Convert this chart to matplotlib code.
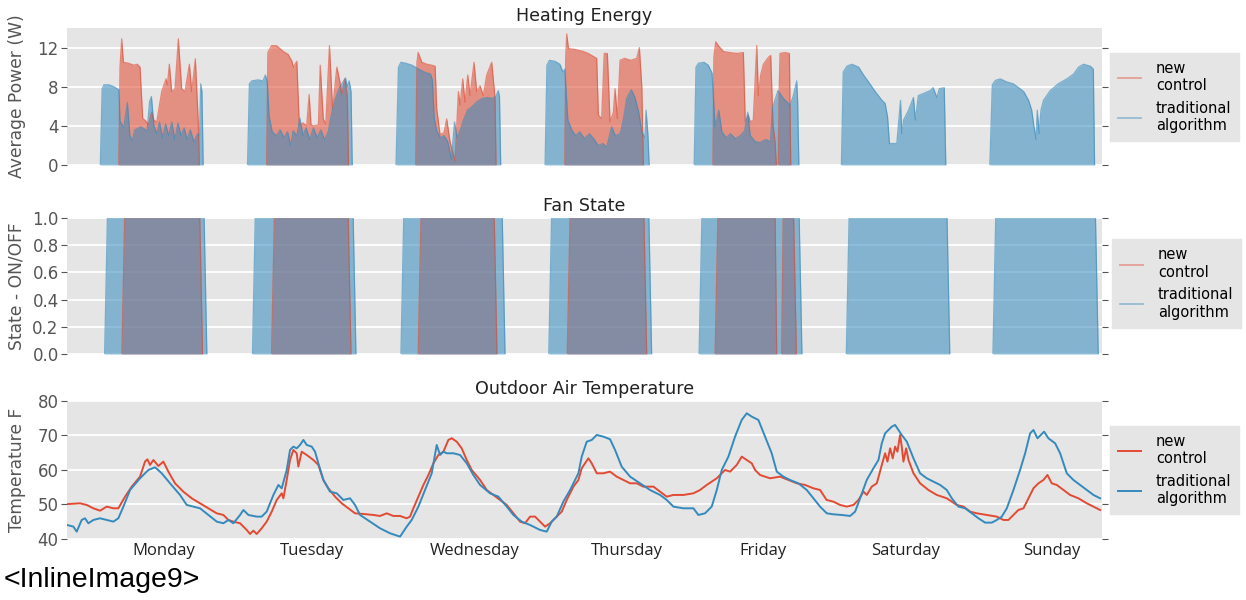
import numpy as np
import matplotlib
matplotlib.use("Agg")
import matplotlib.pyplot as plt
from matplotlib.lines import Line2D

# ---------------- data (hours since Monday 00:00) ----------------
days = ["Monday", "Tuesday", "Wednesday", "Thursday", "Friday", "Saturday", "Sunday"]
day_label_hours = [15.75, 39.8, 66.1, 90.9, 113.0, 136.2, 159.9]

series_labels = ["new\ncontrol", "traditional\nalgorithm"]

# Heating power (W), traditional algorithm: (hour, watts)
power_traditional = [
    (0, 0), (5.4, 0), (5.7, 7.8), (6.0, 8.2), (6.8, 8.2), (7.6, 8.0), (8.4, 7.7), (8.6, 4.5), (9.2, 3.8),
    (9.8, 6.4), (10.2, 3.0), (10.6, 2.5), (11.0, 3.6), (12.0, 3.9), (13.0, 3.5), (13.4, 6.5), (13.7, 7.0),
    (14.1, 4.0), (14.6, 3.2), (15.0, 4.4), (15.5, 2.8), (16.0, 4.2), (16.5, 3.0), (17.0, 4.4), (17.5, 2.6),
    (18.0, 4.3), (18.5, 3.0), (19.0, 3.8), (19.5, 2.6), (20.0, 3.6), (20.6, 2.4), (21.2, 3.2), (21.5, 3.0),
    (21.7, 8.3), (21.9, 7.5), (22.1, 0),
    (29.3, 0), (29.6, 8.3), (30.0, 8.6), (31.0, 8.7), (31.8, 8.6), (32.2, 9.2), (32.5, 8.5), (32.8, 5.0),
    (33.3, 3.4), (34.0, 3.0), (34.6, 3.6), (35.2, 2.8), (35.8, 3.4), (36.3, 2.0), (36.7, 3.5), (37.3, 3.0),
    (37.8, 4.8), (38.3, 3.0), (38.8, 3.8), (39.4, 2.6), (40.0, 3.8), (40.6, 2.8), (41.2, 3.6), (41.8, 2.6),
    (42.4, 3.4), (42.8, 4.8), (43.3, 6.2), (43.8, 7.2), (44.3, 8.0), (44.8, 8.5), (45.2, 8.9), (45.5, 8.0),
    (45.8, 8.6), (46.1, 7.5), (46.3, 0),
    (53.4, 0), (53.8, 10.0), (54.2, 10.5), (55.0, 10.4), (56.0, 10.2), (56.8, 9.9), (58.0, 9.5), (59.0, 9.3),
    (59.3, 8.7), (59.6, 4.8), (60.0, 3.5), (60.6, 2.8), (61.2, 3.0), (61.8, 2.4), (62.4, 0.6), (62.9, 4.4),
    (63.3, 2.8), (63.8, 3.5), (64.3, 4.5), (65.0, 5.6), (65.8, 6.0), (66.6, 6.5), (67.4, 6.8), (68.2, 6.9),
    (69.0, 6.8), (69.6, 7.0), (70.0, 7.6), (70.2, 7.0), (70.4, 0),
    (77.6, 0), (77.9, 10.2), (78.3, 10.7), (79.2, 10.6), (80.0, 10.3), (80.5, 9.5), (80.8, 9.8), (81.3, 4.6),
    (82.0, 3.5), (82.6, 3.0), (83.2, 3.4), (84.0, 2.7), (84.8, 3.2), (85.6, 2.6), (86.2, 2.0), (87.0, 2.2),
    (87.6, 1.8), (88.4, 3.9), (89.0, 3.0), (89.8, 3.2), (90.3, 4.6), (90.85, 6.8), (91.6, 7.7), (92.2, 6.9),
    (92.8, 5.4), (93.3, 3.4), (93.8, 2.8), (94.0, 5.6), (94.3, 3.0), (94.5, 0),
    (101.8, 0), (102.1, 10.0), (102.5, 10.4), (103.4, 10.5), (104.1, 10.2), (104.7, 9.4), (105.2, 3.9),
    (105.8, 5.6), (106.3, 3.4), (107.0, 2.8), (107.7, 3.2), (108.5, 2.7), (109.3, 3.0), (110.0, 3.5),
    (110.5, 5.4), (110.9, 3.0), (111.7, 2.4), (112.5, 2.3), (113.4, 2.6), (114.2, 2.4), (114.5, 5.8),
    (115.4, 7.6), (116.3, 6.8), (117.4, 6.1), (117.9, 7.1), (118.45, 8.6), (118.6, 6.5), (118.8, 0),
    (125.7, 0), (126.0, 9.5), (126.6, 10.1), (127.4, 10.3), (128.5, 10.0), (129.3, 9.2), (130.1, 8.5),
    (131.2, 7.5), (132.3, 6.6), (132.8, 6.3), (133.2, 4.9), (133.5, 2.2), (134.7, 2.2), (135.3, 6.6),
    (135.5, 3.2), (135.8, 4.6), (136.6, 5.6), (137.4, 6.9), (137.7, 4.6), (138.2, 7.1), (139.0, 7.3),
    (140.1, 7.6), (140.6, 7.9), (141.2, 6.9), (141.6, 7.8), (142.4, 7.9), (142.65, 0),
    (149.8, 0), (150.2, 8.2), (150.7, 8.65), (151.5, 8.8), (152.5, 8.5), (153.6, 8.3), (154.7, 7.8),
    (155.3, 7.5), (156.1, 6.6), (156.6, 5.6), (156.9, 4.2), (157.3, 2.6), (157.5, 5.6), (157.8, 3.2),
    (158.1, 5.6), (158.5, 6.6), (159.6, 7.6), (160.9, 8.3), (162.3, 8.8), (163.4, 9.3), (164.2, 10.0),
    (165.0, 10.3), (166.1, 10.1), (166.6, 9.8), (166.8, 0), (168, 0),
]

# Heating power (W), new control: (hour, watts)
power_new = [
    (0, 0), (8.4, 0), (8.6, 10.0), (8.87, 12.9), (9.15, 10.5), (10.0, 10.4), (10.8, 10.2), (11.4, 10.3),
    (11.85, 10.0), (12.28, 4.75), (12.8, 4.5), (13.2, 4.1), (13.74, 5.4), (14.1, 4.6), (14.56, 4.4),
    (15.37, 7.5), (16.07, 8.8), (16.3, 8.2), (16.61, 10.3), (16.99, 7.5), (17.53, 7.8), (18.07, 12.9),
    (18.61, 7.8), (19.15, 7.5), (19.86, 10.3), (20.24, 7.5), (20.83, 10.85), (21.32, 4.1), (21.48, 0),
    (32.4, 0), (32.6, 11.5), (33.2, 12.2), (34.0, 12.2), (35.1, 11.6), (35.9, 11.3), (36.5, 10.6),
    (36.75, 10.0), (37.3, 10.6), (37.7, 4.1), (38.3, 4.3), (38.9, 4.0), (39.3, 7.2), (39.6, 4.1),
    (40.0, 4.0), (40.8, 4.1), (41.1, 10.2), (41.6, 4.7), (42.0, 4.2), (42.6, 12.2), (43.1, 5.7),
    (43.8, 10.0), (44.3, 8.5), (44.6, 7.2), (45.1, 8.8), (45.5, 7.0), (45.7, 0),
    (56.6, 0), (56.8, 10.5), (57.0, 11.5), (57.6, 10.5), (58.4, 10.3), (59.2, 10.2), (59.75, 10.1),
    (60.0, 5.8), (60.55, 3.1), (61.2, 3.3), (61.63, 4.7), (62.17, 2.4), (62.99, 0.4), (63.53, 7.5),
    (63.8, 6.1), (64.23, 8.8), (64.61, 6.4), (65.04, 9.2), (65.42, 7.1), (66.07, 10.5), (66.5, 7.5),
    (67.04, 8.1), (67.58, 7.1), (68.13, 9.2), (68.94, 10.5), (69.48, 6.8), (69.64, 0),
    (80.8, 0), (80.95, 11.0), (81.11, 13.4), (81.4, 11.9), (82.5, 11.8), (83.82, 11.6), (84.6, 11.4),
    (85.44, 11.1), (85.98, 10.9), (86.25, 5.1), (86.79, 4.75), (87.2, 11.4), (87.71, 11.4), (88.15, 4.4),
    (88.69, 5.4), (88.96, 7.8), (89.34, 4.75), (89.77, 10.7), (90.5, 10.9), (91.5, 10.7), (92.48, 10.9),
    (92.91, 12.0), (93.3, 8.0), (93.56, 0),
    (104.85, 0), (105.0, 11.0), (105.3, 12.6), (105.73, 12.2), (106.55, 11.6), (107.5, 11.5),
    (108.71, 11.4), (109.79, 11.5), (110.1, 4.4), (110.6, 5.1), (110.9, 4.4), (111.4, 4.6), (111.96, 12.2),
    (112.23, 7.1), (112.6, 9.2), (113.04, 10.3), (113.85, 11.0), (114.23, 11.2), (114.6, 4.1),
    (114.93, 2.4), (115.15, 0), (115.45, 0), (115.6, 7.5), (115.74, 11.4), (116.5, 11.5), (117.26, 11.4),
    (117.48, 0), (168, 0),
]

# Fan state (0 = OFF, 1 = ON): (hour, state)
fan_traditional = [
    (0, 0), (6.1, 0), (6.55, 1), (22.25, 1), (22.7, 0), (30.1, 0), (30.55, 1), (46.45, 1), (46.9, 0),
    (54.2, 0), (54.65, 1), (70.65, 1), (71.1, 0), (78.2, 0), (78.65, 1), (94.45, 1), (94.9, 0),
    (102.6, 0), (103.05, 1), (118.85, 1), (119.3, 0), (126.5, 0), (126.95, 1), (142.85, 1), (143.3, 0),
    (150.3, 0), (150.75, 1), (166.95, 1), (167.4, 0), (168, 0),
]
fan_new = [
    (0, 0), (8.9, 0), (9.35, 1), (21.55, 1), (22.0, 0), (33.2, 0), (33.65, 1), (45.65, 1), (46.1, 0),
    (57.0, 0), (57.45, 1), (69.35, 1), (69.8, 0), (81.2, 0), (81.65, 1), (93.65, 1), (94.1, 0),
    (105.2, 0), (105.65, 1), (114.95, 1), (115.2, 0), (116.0, 0), (116.25, 1), (117.95, 1), (118.4, 0),
    (168, 0),
]

# Outdoor air temperature (F): (hour, degF)
temp_new = [
    (0, 50.1), (2.11, 50.34), (3.19, 49.86), (4.28, 48.89), (5.36, 48.2), (6.44, 49.38), (7.52, 48.89),
    (8.33, 48.89), (9.42, 52.27), (10.5, 55.17), (11.85, 58.07), (12.66, 62.42), (13.04, 63.1),
    (13.47, 61.45), (14.02, 62.9), (14.83, 61.16), (15.64, 62.42), (16.45, 59.52), (17.53, 56.14),
    (18.88, 53.72), (20.24, 51.79), (21.59, 50.34), (22.94, 48.89), (24.3, 47.44), (25.38, 46.96),
    (26.19, 45.51), (27.0, 45.03), (28.09, 44.55), (29.17, 42.61), (29.71, 41.45), (30.25, 42.42),
    (30.79, 41.45), (31.6, 43.1), (32.41, 45.03), (33.23, 47.93), (34.04, 51.31), (34.85, 53.24),
    (35.12, 51.79), (35.66, 57.1), (36.2, 62.9), (36.74, 65.8), (37.28, 64.84), (37.55, 60.97),
    (38.09, 65.3), (38.91, 64.35), (39.99, 62.9), (40.8, 61.45), (41.61, 57.1), (42.42, 54.69),
    (43.51, 52.27), (44.59, 50.34), (45.67, 48.89), (46.75, 47.44), (48.11, 47.25), (49.73, 46.96),
    (50.81, 46.67), (51.89, 47.44), (52.98, 46.67), (54.06, 46.67), (55.14, 46.0), (55.68, 46.48),
    (56.22, 48.89), (57.03, 52.27), (57.85, 55.66), (58.66, 58.55), (59.47, 61.93), (60.28, 64.35),
    (61.09, 65.3), (61.9, 68.7), (62.45, 69.2), (63.26, 68.2), (64.07, 66.28), (64.88, 62.9),
    (65.69, 60.0), (67.05, 57.1), (68.13, 54.2), (69.21, 52.76), (70.29, 51.31), (71.38, 49.86),
    (72.46, 47.44), (73.54, 45.03), (74.35, 44.55), (75.16, 46.48), (75.98, 46.48), (76.79, 45.03),
    (77.6, 43.58), (78.41, 44.55), (79.49, 46.48), (80.3, 47.93), (81.12, 51.31), (82.2, 55.17),
    (83.01, 57.1), (83.55, 60.49), (84.63, 63.38), (85.17, 61.93), (85.99, 59.04), (87.07, 59.04),
    (88.15, 59.52), (89.23, 58.07), (90.32, 57.1), (91.4, 56.14), (92.48, 56.14), (93.56, 55.17),
    (95.19, 55.17), (96.27, 53.72), (97.35, 52.27), (98.43, 52.76), (100.06, 52.76), (101.68, 53.24),
    (102.76, 54.2), (103.84, 55.66), (105.47, 57.59), (106.82, 60.0), (107.63, 59.52), (108.71, 61.45),
    (109.52, 63.87), (110.34, 62.9), (111.15, 61.93), (111.69, 60.0), (112.5, 58.55), (114.12, 57.59),
    (115.75, 58.07), (117.1, 57.1), (118.45, 56.14), (119.81, 55.66), (121.16, 54.69), (122.24, 54.2),
    (123.3, 51.31), (124.41, 50.82), (125.49, 49.86), (126.58, 49.38), (127.66, 49.86), (128.47, 51.31),
    (129.28, 53.72), (129.82, 52.76), (130.63, 55.17), (131.45, 56.14), (132.26, 61.45), (132.8, 64.84),
    (133.18, 62.42), (133.61, 66.28), (134.04, 63.38), (134.42, 66.77), (134.8, 65.3), (135.23, 70.15),
    (135.5, 66.77), (135.77, 62.42), (136.21, 66.28), (136.59, 62.9), (137.4, 59.04), (138.48, 56.14),
    (139.83, 54.2), (141.19, 52.76), (142.81, 51.79), (144.43, 49.86), (145.52, 49.38), (146.6, 47.93),
    (147.68, 47.44), (149.3, 46.96), (150.93, 46.48), (152.01, 45.51), (152.82, 45.51), (153.63, 46.96),
    (154.44, 48.41), (155.26, 48.89), (156.07, 51.79), (156.88, 54.69), (157.69, 56.14), (158.5, 57.1),
    (159.15, 58.55), (159.85, 56.14), (160.67, 55.66), (161.75, 54.2), (162.83, 52.76), (164.18, 51.79),
    (165.54, 50.34), (166.62, 49.38), (167.7, 48.41),
]
temp_traditional = [
    (0, 44.06), (1.03, 43.58), (1.57, 42.13), (2.38, 45.51), (2.92, 46.0), (3.46, 44.55), (4.28, 45.51),
    (5.36, 46.0), (6.44, 45.51), (7.52, 45.03), (8.33, 46.0), (9.15, 49.38), (10.23, 54.2), (11.85, 57.59),
    (13.2, 60.0), (14.29, 60.78), (15.37, 59.04), (16.72, 56.14), (18.34, 52.76), (19.43, 49.86),
    (20.51, 49.38), (21.59, 48.89), (22.94, 46.96), (24.3, 45.03), (25.38, 44.55), (26.19, 45.51),
    (27.0, 44.55), (28.09, 46.96), (28.63, 48.41), (29.44, 46.96), (30.79, 46.48), (31.6, 46.48),
    (32.41, 47.93), (33.5, 52.76), (34.31, 55.66), (34.85, 54.69), (35.66, 60.0), (36.2, 65.8),
    (36.74, 66.77), (37.28, 66.28), (37.82, 67.25), (38.37, 68.7), (38.91, 67.25), (39.72, 66.77),
    (40.26, 65.3), (40.8, 61.93), (41.61, 57.1), (42.69, 53.72), (43.78, 53.24), (44.86, 51.31),
    (45.94, 51.79), (46.75, 49.86), (47.57, 46.96), (49.19, 45.03), (50.81, 43.1), (52.44, 41.65),
    (54.06, 40.68), (55.14, 43.58), (55.95, 45.51), (57.03, 49.38), (58.12, 54.2), (59.2, 59.04),
    (60.01, 67.25), (60.55, 64.35), (61.09, 65.3), (61.64, 64.84), (62.72, 64.84), (63.8, 64.35),
    (64.88, 61.93), (65.96, 58.55), (67.05, 55.66), (68.67, 53.24), (70.02, 52.27), (71.38, 49.38),
    (72.46, 46.96), (73.81, 45.03), (75.16, 44.06), (76.79, 42.61), (77.87, 42.13), (78.68, 45.03),
    (79.49, 46.48), (80.57, 50.82), (81.66, 54.2), (83.01, 59.04), (83.55, 63.87), (84.36, 68.2),
    (85.17, 68.7), (85.99, 70.15), (87.07, 69.66), (88.15, 68.9), (88.96, 65.8), (90.04, 60.97),
    (91.4, 58.07), (93.02, 56.14), (94.64, 54.2), (96.27, 52.76), (97.35, 51.31), (98.43, 49.38),
    (100.06, 48.89), (101.68, 48.89), (102.49, 46.96), (103.57, 47.44), (104.65, 49.38), (105.47, 54.2),
    (106.28, 60.0), (107.36, 63.87), (108.44, 69.66), (109.52, 74.5), (110.34, 76.43), (111.15, 75.46),
    (112.23, 74.5), (113.31, 69.66), (114.39, 64.84), (115.21, 59.52), (116.29, 58.07), (117.37, 57.1),
    (118.72, 56.14), (120.08, 54.2), (121.16, 51.79), (122.24, 49.38), (123.33, 47.44), (124.41, 47.15),
    (125.76, 46.96), (127.12, 46.67), (127.93, 47.93), (128.74, 51.79), (129.82, 57.1), (130.9, 60.49),
    (131.72, 62.9), (132.26, 67.73), (132.8, 70.63), (133.34, 71.6), (133.88, 72.56), (134.42, 73.05),
    (134.96, 71.6), (135.5, 70.15), (136.32, 68.21), (137.4, 63.38), (138.48, 59.04), (139.56, 57.59),
    (140.65, 56.62), (141.73, 55.66), (142.81, 54.2), (143.62, 51.79), (144.7, 49.38), (145.79, 48.89),
    (146.87, 47.44), (147.95, 46.0), (149.03, 44.74), (150.11, 44.74), (150.93, 45.51), (151.74, 46.48),
    (152.55, 48.89), (153.63, 54.2), (154.71, 60.0), (155.53, 64.84), (156.34, 70.63), (156.88, 71.6),
    (157.53, 69.18), (158.07, 70.15), (158.61, 71.11), (159.31, 69.18), (160.4, 67.73), (161.21, 64.84),
    (162.29, 59.04), (163.37, 57.1), (164.45, 55.66), (165.54, 54.2), (166.62, 52.76), (167.7, 51.79),
]

# ---------------- style ----------------
RED = "#E24A33"
BLUE = "#348ABD"
BG = "#E5E5E5"
GRAY = "#555555"

fig = plt.figure(figsize=(12.46, 6.0), dpi=100)
rects = [
    [0.0538, 0.725, 0.8306, 0.2283],
    [0.0538, 0.410, 0.8306, 0.2267],
    [0.0538, 0.1017, 0.8306, 0.2300],
]
axs = [fig.add_axes(r) for r in rects]


def arr(pairs):
    return np.array([p[0] for p in pairs], float), np.array([p[1] for p in pairs], float)


def outline(h, v):
    xs, ys = [], []
    for i in range(len(h)):
        xs.append(h[i]); ys.append(v[i])
        if i + 1 < len(h) and v[i] == 0 and v[i + 1] == 0:
            xs.append(np.nan); ys.append(np.nan)
    return xs, ys


def style(ax):
    ax.set_facecolor(BG)
    for s in ax.spines.values():
        s.set_visible(False)
    ax.set_axisbelow(True)
    ax.yaxis.grid(True, color="white", lw=1.3)
    ax.xaxis.grid(False)
    ax.tick_params(axis="y", left=True, right=True, labelright=False, direction="out",
                   length=4, width=0.8, color=GRAY, labelsize=12, labelcolor=GRAY, pad=2)
    ax.tick_params(axis="x", length=0)
    ax.set_xlim(0, 168)


def area(ax, pairs, color):
    h, v = arr(pairs)
    ax.fill_between(h, 0, v, color=color, alpha=0.55, lw=0)
    xs, ys = outline(h, v)
    ax.plot(xs, ys, color=color, lw=0.9, alpha=0.6)


leg_kw = dict(loc="center left", frameon=True, facecolor=BG, edgecolor=BG, framealpha=1,
              fancybox=False, fontsize=10.5, handlelength=1.6, handletextpad=1.0,
              borderpad=0.55, labelspacing=0.5, borderaxespad=0)

faint = [Line2D([], [], color=RED, alpha=0.45, lw=1.3),
         Line2D([], [], color=BLUE, alpha=0.45, lw=1.3)]

TITLE_FS = 12.6
YLAB_FS = 12.3

# --- Heating energy
ax = axs[0]
style(ax)
area(ax, power_new, RED)
area(ax, power_traditional, BLUE)
ax.set_ylim(0, 14)
ax.set_yticks([0, 4, 8, 12])
ax.set_xticks([])
ax.set_title("Heating Energy", fontsize=TITLE_FS, color="#222222", pad=5)
ax.set_ylabel("Average Power (W)", fontsize=YLAB_FS, color=GRAY)
ax.yaxis.set_label_coords(-0.040, 0.5)
ax.legend(faint, series_labels, bbox_to_anchor=(1.0077, 0.496), **leg_kw)

# --- Fan state
ax = axs[1]
style(ax)
area(ax, fan_new, RED)
area(ax, fan_traditional, BLUE)
ax.set_ylim(0, 1.0)
ax.set_yticks([0.0, 0.2, 0.4, 0.6, 0.8, 1.0])
ax.set_yticklabels(["0.0", "0.2", "0.4", "0.6", "0.8", "1.0"])
ax.set_xticks([])
ax.set_title("Fan State", fontsize=TITLE_FS, color="#222222", pad=5)
ax.set_ylabel("State - ON/OFF", fontsize=YLAB_FS, color=GRAY)
ax.yaxis.set_label_coords(-0.040, 0.5)
ax.legend(faint, series_labels, bbox_to_anchor=(1.0097, 0.518), **leg_kw)

# --- Outdoor air temperature
ax = axs[2]
style(ax)
h, v = arr(temp_new)
ax.plot(h, v, color=RED, lw=1.4, label=series_labels[0])
h, v = arr(temp_traditional)
ax.plot(h, v, color=BLUE, lw=1.4, label=series_labels[1])
ax.set_ylim(40, 80)
ax.set_yticks([40, 50, 60, 70, 80])
ax.set_xticks(day_label_hours)
ax.set_xticklabels(days, fontfamily="Open Sans", fontsize=12, color="#222222")
ax.tick_params(axis="x", length=0, pad=3)
ax.set_title("Outdoor Air Temperature", fontsize=TITLE_FS, color="#222222", pad=5)
ax.set_ylabel("Temperature F", fontsize=YLAB_FS, color=GRAY)
ax.yaxis.set_label_coords(-0.040, 0.5)
ax.legend(bbox_to_anchor=(1.0077, 0.50), **leg_kw)

fig.text(0.003, 0.021, "<InlineImage9>", fontsize=20.5, family="Liberation Sans",
         color="black", va="baseline", ha="left")

fig.savefig("out.png", dpi=100, facecolor="white")
